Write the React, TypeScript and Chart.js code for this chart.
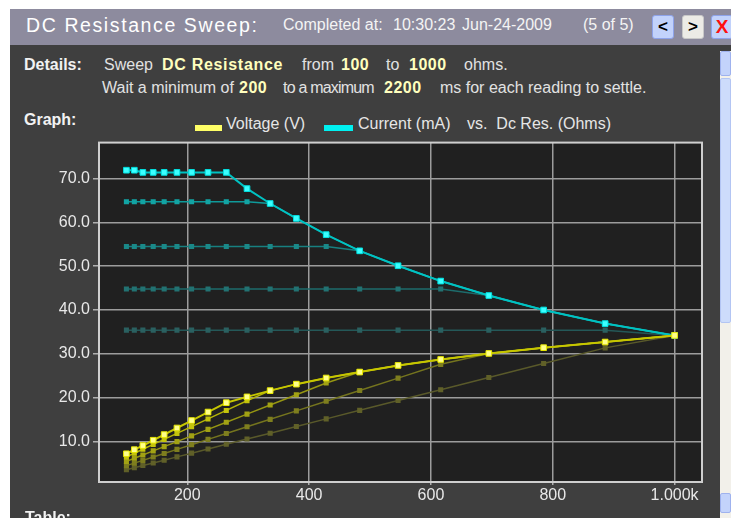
import React, { useEffect, useRef } from 'react';
import { Chart, registerables } from 'chart.js';
Chart.register(...registerables);

// Resistance sweep points (Ohms)
const resistance = [100, 113, 127, 144, 162, 183, 207, 234, 264, 298, 336, 379, 428, 483, 546, 616, 695, 785, 886, 1000];

// Current (mA), sweeps 1..5 (5 = latest, brightest)
const current1 = [35.4, 35.4, 35.4, 35.4, 35.4, 35.4, 35.4, 35.4, 35.4, 35.4, 35.4, 35.4, 35.4, 35.4, 35.4, 35.4, 35.4, 35.4, 35.4, 34.2];
const current2 = [44.8, 44.8, 44.8, 44.8, 44.8, 44.8, 44.8, 44.8, 44.8, 44.8, 44.8, 44.8, 44.8, 44.8, 44.8, 44.8, 43.3, 40.0, 36.9, 34.2];
const current3 = [54.5, 54.5, 54.5, 54.5, 54.5, 54.5, 54.5, 54.5, 54.5, 54.5, 54.5, 54.5, 54.5, 53.5, 50.1, 46.6, 43.3, 40.0, 36.9, 34.2];
const current4 = [64.7, 64.7, 64.7, 64.7, 64.7, 64.7, 64.7, 64.7, 64.7, 64.7, 64.3, 60.9, 57.2, 53.5, 50.1, 46.6, 43.3, 40.0, 36.9, 34.2];
const current5 = [71.9, 71.9, 71.4, 71.4, 71.4, 71.4, 71.4, 71.4, 71.4, 67.7, 64.3, 60.9, 57.2, 53.5, 50.1, 46.6, 43.3, 40.0, 36.9, 34.2];

// Voltage (V), sweeps 1..5
const voltage1 = [3.54, 4.0, 4.5, 5.1, 5.73, 6.48, 7.33, 8.28, 9.35, 10.55, 11.89, 13.42, 15.15, 17.1, 19.33, 21.81, 24.6, 27.79, 31.36, 34.2];
const voltage2 = [4.48, 5.06, 5.69, 6.45, 7.26, 8.2, 9.27, 10.48, 11.83, 13.35, 15.05, 16.98, 19.17, 21.64, 24.46, 27.6, 30.09, 31.4, 32.69, 34.2];
const voltage3 = [5.45, 6.16, 6.92, 7.85, 8.83, 9.97, 11.28, 12.75, 14.39, 16.24, 18.31, 20.66, 23.33, 25.84, 27.35, 28.71, 30.09, 31.4, 32.69, 34.2];
const voltage4 = [6.47, 7.31, 8.22, 9.32, 10.48, 11.84, 13.39, 15.14, 17.08, 19.28, 21.6, 23.08, 24.48, 25.84, 27.35, 28.71, 30.09, 31.4, 32.69, 34.2];
const voltage5 = [7.19, 8.12, 9.07, 10.28, 11.57, 13.07, 14.78, 16.71, 18.85, 20.17, 21.6, 23.08, 24.48, 25.84, 27.35, 28.71, 30.09, 31.4, 32.69, 34.2];

const xTicks = [200, 400, 600, 800, 1000];
const xTickLabels = ['200', '400', '600', '800', '1.000k'];
const yTicks = [10, 20, 30, 40, 50, 60, 70];

const currentSweeps = [current1, current2, current3, current4, current5];
const voltageSweeps = [voltage1, voltage2, voltage3, voltage4, voltage5];

const cyanLine = ['#245858', '#1d6b6b', '#178080', '#0f9a9a', '#00c2c2'];
const cyanPoint = ['#2a6060', '#227272', '#1a8888', '#12a4a4', '#3cffff'];
const yellowLine = ['#59592a', '#74741e', '#969612', '#b4b406', '#c6c600'];
const yellowPoint = ['#606028', '#7e7e1e', '#a2a214', '#c4c40c', '#ffff8c'];

const FONT = '"Liberation Sans", Arial, sans-serif';

function T(props: any) {
  const { x, b, s = 16, bold = false, c = '#e2e2e2', ls = 0, children } = props;
  return (
    <span
      style={{
        position: 'absolute',
        left: x,
        top: b - 0.8465 * s,
        fontSize: s,
        lineHeight: `${s}px`,
        fontFamily: FONT,
        fontWeight: bold ? 700 : 400,
        color: c,
        letterSpacing: ls,
        whiteSpace: 'pre',
      }}
    >
      {children}
    </span>
  );
}

function ChartBox() {
  const ref = useRef<HTMLCanvasElement>(null);
  useEffect(() => {
    const canvas = ref.current;
    if (!canvas) return;
    const mk = (arr: number[]) => resistance.map((r, i) => ({ x: r, y: arr[i] }));
    const datasets: any[] = [];
    for (let k = 4; k >= 0; k--) {
      const bright = k === 4;
      datasets.push({
        label: `Voltage (V) ${k + 1}`,
        data: mk(voltageSweeps[k]),
        borderColor: yellowLine[k],
        backgroundColor: yellowPoint[k],
        pointBackgroundColor: yellowPoint[k],
        pointBorderColor: bright ? '#e6e600' : yellowPoint[k],
        pointBorderWidth: bright ? 1 : 0,
        borderWidth: bright ? 2 : 1.5,
        pointStyle: 'rect',
        pointRadius: bright ? 4 : 3.6,
        tension: 0,
      });
    }
    for (let k = 4; k >= 0; k--) {
      const bright = k === 4;
      datasets.push({
        label: `Current (mA) ${k + 1}`,
        data: mk(currentSweeps[k]),
        borderColor: cyanLine[k],
        backgroundColor: cyanPoint[k],
        pointBackgroundColor: cyanPoint[k],
        pointBorderColor: bright ? '#00e0e0' : cyanPoint[k],
        pointBorderWidth: bright ? 1 : 0,
        borderWidth: bright ? 2 : 1.5,
        pointStyle: 'rect',
        pointRadius: bright ? 4 : 3.6,
        tension: 0,
      });
    }
    const frame = {
      id: 'frame',
      beforeDraw(chart: any) {
        const { ctx, chartArea: a } = chart;
        ctx.save();
        ctx.fillStyle = '#202020';
        ctx.fillRect(a.left, a.top, a.right - a.left, a.bottom - a.top);
        ctx.restore();
      },
      afterDatasetsDraw(chart: any) {
        const { ctx, chartArea: a } = chart;
        ctx.save();
        ctx.strokeStyle = '#cfcfcf';
        ctx.lineWidth = 2;
        ctx.strokeRect(a.left, a.top, a.right - a.left, a.bottom - a.top);
        ctx.restore();
      },
    };
    const chart = new Chart(canvas, {
      type: 'line',
      data: { datasets },
      plugins: [frame],
      options: {
        animation: false,
        responsive: false,
        devicePixelRatio: 1,
        layout: { padding: { top: 8, right: 18, left: 0, bottom: 0 } },
        plugins: { legend: { display: false }, tooltip: { enabled: false } },
        scales: {
          x: {
            type: 'linear',
            min: 55,
            max: 1045,
            afterFit: (s: any) => { s.height = 36; },
            afterBuildTicks: (s: any) => { s.ticks = xTicks.map((v) => ({ value: v })); },
            border: { display: false },
            grid: { color: '#9c9c9c', lineWidth: 1.5, tickLength: 3, tickColor: '#b0b0b0' },
            ticks: {
              color: '#e8e8e8',
              font: { family: FONT, size: 16 },
              padding: 1,
              maxRotation: 0,
              callback: (v: any) => {
                const i = xTicks.indexOf(Number(v));
                return i >= 0 ? xTickLabels[i] : '';
              },
            },
          },
          y: {
            type: 'linear',
            min: 0.75,
            max: 78.2,
            afterFit: (s: any) => { s.width = 79; },
            afterBuildTicks: (s: any) => { s.ticks = yTicks.map((v) => ({ value: v })); },
            border: { display: false },
            grid: { color: '#9c9c9c', lineWidth: 1.5, tickLength: 6, tickColor: '#b0b0b0' },
            ticks: {
              color: '#e8e8e8',
              font: { family: FONT, size: 16 },
              padding: 3,
              callback: (v: any) => Number(v).toFixed(1),
            },
          },
        },
      },
    });
    return () => chart.destroy();
  }, []);
  return (
    <canvas
      ref={ref}
      width={700}
      height={388}
      style={{ position: 'absolute', left: 20, top: 130, width: 700, height: 388 }}
    />
  );
}

export default function App() {
  const Y = '#ffffbe';
  return (
    <div style={{ position: 'fixed', left: 0, top: 0, width: 731, height: 518, overflow: 'hidden', background: '#ffffff' }}>
      <div style={{ position: 'absolute', left: 10, top: 9, width: 721, height: 36, background: '#8d8b9e' }} />
      <div style={{ position: 'absolute', left: 10, top: 45, width: 709, height: 473, background: '#3f3f3f' }} />
      <div style={{ position: 'absolute', left: 719, top: 45, width: 12, height: 473, background: '#3f3f3f' }} />
      <div style={{ position: 'absolute', left: 720, top: 51, width: 11, height: 467, background: '#f2f0ea' }} />
      <div style={{ position: 'absolute', left: 720, top: 51, width: 11, height: 25, background: '#c3d3fb', border: '1px solid #9fb2ee', boxSizing: 'border-box', borderRadius: 2 }} />
      <div style={{ position: 'absolute', left: 720, top: 78, width: 11, height: 245, background: '#cddcfb', border: '1px solid #b3c5f3', boxSizing: 'border-box', borderRadius: 2 }} />
      <div style={{ position: 'absolute', left: 720, top: 493, width: 11, height: 20, background: '#c3d3fb', border: '1px solid #9fb2ee', boxSizing: 'border-box', borderRadius: 2 }} />

      <T x={26} b={33} s={19.5} c="#ffffff" ls={1.6}>DC Resistance Sweep:</T>
      <T x={283} b={31} s={16} c="#f4f4f4">Completed at:</T>
      <T x={393} b={31} s={16} c="#f4f4f4">10:30:23</T>
      <T x={462} b={31} s={16} c="#f4f4f4">Jun-24-2009</T>
      <T x={583} b={31} s={16} c="#f4f4f4">(5 of 5)</T>
      <div style={{ position: 'absolute', left: 652, top: 15, width: 22, height: 24, background: '#c2d2fb', border: '1px solid #8ea3ea', boxSizing: 'border-box', borderRadius: 3, color: '#000', fontFamily: FONT, fontWeight: 700, fontSize: 17, lineHeight: '22px', textAlign: 'center' }}>&lt;</div>
      <div style={{ position: 'absolute', left: 682, top: 15, width: 22, height: 24, background: '#ecebe6', border: '1px solid #c8c8c8', boxSizing: 'border-box', borderRadius: 3, color: '#000', fontFamily: FONT, fontWeight: 700, fontSize: 17, lineHeight: '22px', textAlign: 'center' }}>&gt;</div>
      <div style={{ position: 'absolute', left: 711, top: 15, width: 22, height: 24, background: '#c2d2fb', border: '1px solid #8ea3ea', boxSizing: 'border-box', borderRadius: 3, color: '#ff1010', fontFamily: FONT, fontWeight: 700, fontSize: 19, lineHeight: '22px', textAlign: 'center' }}>X</div>

      <T x={24} b={71} bold c="#f2f2f2">Details:</T>
      <T x={104} b={71}>Sweep</T>
      <T x={162} b={71} bold c={Y} ls={0.7}>DC Resistance</T>
      <T x={302} b={71}>from</T>
      <T x={341} b={71} bold c={Y} ls={0.5}>100</T>
      <T x={386} b={71}>to</T>
      <T x={409} b={71} bold c={Y} ls={0.5}>1000</T>
      <T x={464} b={71}>ohms.</T>
      <T x={102} b={94}>Wait a minimum of</T>
      <T x={239} b={94} bold c={Y} ls={0.5}>200</T>
      <T x={283} b={94} ls={-0.8}>to a maximum</T>
      <T x={384} b={94} bold c={Y} ls={0.5}>2200</T>
      <T x={440} b={94}>ms for each reading to settle.</T>
      <T x={24} b={126} bold c="#f2f2f2">Graph:</T>

      <div style={{ position: 'absolute', left: 195, top: 125, width: 27, height: 6, background: '#ffff66' }} />
      <T x={226} b={130} c="#e6e6e6">Voltage (V)</T>
      <div style={{ position: 'absolute', left: 324, top: 125, width: 29, height: 6, background: '#00f0f0' }} />
      <T x={358} b={130} c="#e6e6e6">Current (mA)</T>
      <T x={467} b={130} c="#e6e6e6">vs.  Dc Res. (Ohms)</T>

      <ChartBox />

      <T x={25} b={524} bold c="#f2f2f2">Table:</T>
    </div>
  );
}
